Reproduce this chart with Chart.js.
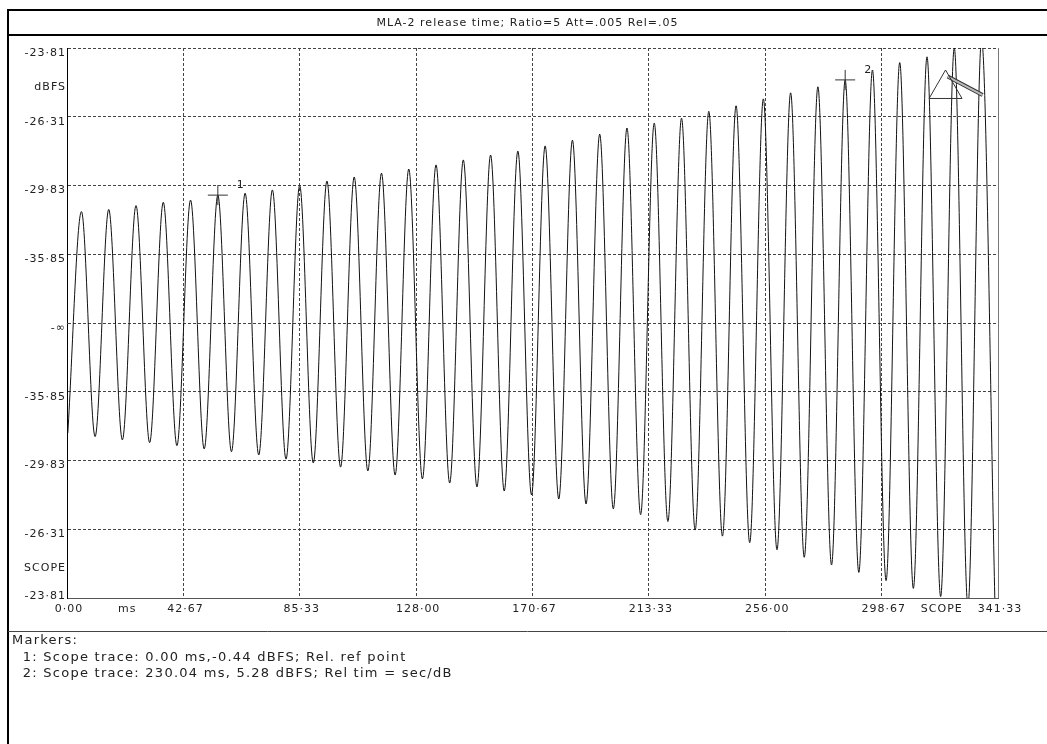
<!DOCTYPE html>
<html>
<head>
<meta charset="utf-8">
<title>MLA-2 release time</title>
<script src="https://cdn.jsdelivr.net/npm/chart.js@4.4.1/dist/chart.umd.min.js"></script>
<style>
  html, body { margin: 0; padding: 0; background: #fff; }
  canvas { display: block; }
</style>
</head>
<body>
<canvas id="scope" width="1047" height="744"></canvas>
<script>
// Scope trace of the 100 Hz tone, level relative to full scale (1 = -23.81 dBFS)
const troughMs = [0.3, 10.3, 20.3, 30.3, 40.3, 50.3, 60.3, 70.3, 80.3, 90.3,
  100.3, 110.3, 120.3, 130.3, 140.3, 150.3, 160.3, 170.3, 180.3, 190.3,
  200.3, 210.3, 220.3, 230.3, 240.3, 250.3, 260.3, 270.3, 280.3, 290.3,
  300.3, 310.3, 320.3, 330.3, 340.3];
const troughLevel = [-0.400, -0.413, -0.425, -0.435, -0.446, -0.458, -0.468, -0.480, -0.495, -0.509,
  -0.524, -0.538, -0.553, -0.567, -0.582, -0.596, -0.611, -0.625, -0.640, -0.658,
  -0.676, -0.697, -0.722, -0.753, -0.775, -0.799, -0.825, -0.852, -0.880, -0.907,
  -0.937, -0.965, -0.995, -1.03, -1.06];
const peakMs = [5.3, 15.3, 25.3, 35.3, 45.3, 55.3, 65.3, 75.3, 85.3, 95.3,
  105.3, 115.3, 125.3, 135.3, 145.3, 155.3, 165.3, 175.3, 185.3, 195.3,
  205.3, 215.3, 225.3, 235.3, 245.3, 255.3, 265.3, 275.3, 285.3, 295.3,
  305.3, 315.3, 325.3, 335.3];
const peakLevel = [0.405, 0.413, 0.427, 0.439, 0.447, 0.465, 0.472, 0.484, 0.500, 0.516,
  0.531, 0.545, 0.560, 0.575, 0.593, 0.611, 0.625, 0.644, 0.665, 0.687,
  0.709, 0.727, 0.745, 0.770, 0.790, 0.815, 0.837, 0.859, 0.884, 0.920,
  0.947, 0.968, 1.00, 1.03];

// axis labelling
const yTickLabels = ['-23·81', '-26·31', '-29·83', '-35·85', '-∞', '-35·85', '-29·83', '-26·31', '-23·81'];
const xTickMs = [0, 21.33, 42.67, 64, 85.33, 106.67, 128, 149.33, 170.67, 192,
  213.33, 234.67, 256, 277.33, 298.67, 320, 341.33];
const xTickLabels = ['0·00', 'ms', '42·67', '', '85·33', '', '128·00', '', '170·67', '',
  '213·33', '', '256·00', '', '298·67', 'SCOPE', '341·33'];

// cursor markers
const markerNames = ['1', '2'];
const markerMs = [55.3, 285.3];
const markerLevel = [0.465, 0.884];

// trigger symbol in the upper right corner
const triangleMs = [322.1];
const triangleLevel = [0.851];
const slashMs = [322.9, 335.7];
const slashLevel = [0.896, 0.829];

const titleText = 'MLA-2 release time; Ratio=5 Att=.005 Rel=.05';
const markerNotes = [
  'Markers:',
  '  1: Scope trace: 0.00 ms,-0.44 dBFS; Rel. ref point',
  '  2: Scope trace: 230.04 ms, 5.28 dBFS; Rel tim = sec/dB'
];

const INK = '#222';
const FONT = 'DejaVu Sans';

const trace = [];
troughMs.forEach((t, i) => {
  trace.push({x: t, y: troughLevel[i]});
  if (i < peakMs.length) trace.push({x: peakMs[i], y: peakLevel[i]});
});

const scopeFrame = {
  id: 'scopeFrame',
  beforeDraw(chart) {
    chart.ctx.letterSpacing = '1px';
  },
  afterDraw(chart) {
    const {ctx, chartArea: a, scales: {x, y}} = chart;
    const W = chart.width, H = chart.height;
    ctx.save();
    ctx.letterSpacing = '1px';

    // page frame, title box, notes separator
    ctx.strokeStyle = '#000';
    ctx.lineWidth = 2;
    ctx.beginPath();
    ctx.moveTo(8, H); ctx.lineTo(8, 10); ctx.lineTo(W, 10);
    ctx.moveTo(8, 35); ctx.lineTo(W, 35);
    ctx.stroke();
    ctx.lineWidth = 1;
    ctx.strokeStyle = '#444';
    ctx.beginPath();
    ctx.moveTo(8, 631.5); ctx.lineTo(W, 631.5);
    ctx.stroke();

    // right edge of the graticule
    ctx.strokeStyle = '#777';
    ctx.beginPath();
    ctx.moveTo(a.right + 0.5, a.top); ctx.lineTo(a.right + 0.5, a.bottom);
    ctx.stroke();

    ctx.fillStyle = INK;
    ctx.font = '11px "' + FONT + '"';
    ctx.textBaseline = 'middle';
    ctx.textAlign = 'center';
    ctx.fillText(titleText, (8 + W) / 2, 23);

    // marker numbers beside the cursors
    ctx.textAlign = 'left';
    markerNames.forEach((n, i) => {
      ctx.fillText(n, x.getPixelForValue(markerMs[i]) + 19, y.getPixelForValue(markerLevel[i]) - 10);
    });

    ctx.font = '13px "' + FONT + '"';
    ctx.letterSpacing = '1.25px';
    markerNotes.forEach((line, i) => {
      ctx.fillText(line, 12, 641 + i * 16.5);
    });
    ctx.restore();
  }
};

new Chart(document.getElementById('scope'), {
  data: {
    datasets: [
      {
        type: 'scatter',
        data: markerMs.map((t, i) => ({x: t, y: markerLevel[i]})),
        pointStyle: 'cross',
        pointRadius: 10,
        borderColor: '#333',
        borderWidth: 1
      },
      {
        type: 'scatter',
        data: triangleMs.map((t, i) => ({x: t, y: triangleLevel[i]})),
        pointStyle: 'triangle',
        pointRadius: 19,
        borderColor: '#333',
        backgroundColor: 'rgba(0,0,0,0)',
        borderWidth: 1
      },
      {
        type: 'line',
        data: slashMs.map((t, i) => ({x: t, y: slashLevel[i]})),
        borderColor: '#bbb',
        borderWidth: 2,
        pointRadius: 0
      },
      {
        type: 'line',
        data: slashMs.map((t, i) => ({x: t, y: slashLevel[i]})),
        borderColor: '#333',
        borderWidth: 4,
        pointRadius: 0
      },
      {
        type: 'line',
        data: trace,
        borderColor: '#111',
        borderWidth: 1,
        pointRadius: 0,
        cubicInterpolationMode: 'monotone'
      }
    ]
  },
  options: {
    responsive: false,
    animation: false,
    devicePixelRatio: 1,
    layout: {padding: {left: 0, top: 48, right: 49, bottom: 126}},
    plugins: {legend: {display: false}, tooltip: {enabled: false}},
    scales: {
      x: {
        type: 'linear',
        min: 0,
        max: 341.33,
        afterBuildTicks: s => { s.ticks = xTickMs.map(v => ({value: v})); },
        afterFit: s => { s.height = 20; },
        grid: {
          drawTicks: false,
          color: c => (c.index % 2 === 1 || c.index === xTickMs.length - 1 || c.index === 0) ? 'rgba(0,0,0,0)' : '#444'
        },
        border: {display: true, color: '#555', width: 1, dash: [3, 2]},
        ticks: {
          autoSkip: false,
          maxRotation: 0,
          padding: 5,
          labelOffset: 2,
          color: INK,
          font: {family: FONT, size: 11},
          callback: (v, i) => xTickLabels[i]
        }
      },
      y: {
        type: 'linear',
        min: -1,
        max: 1,
        afterBuildTicks: s => {
          const t = [];
          for (let i = 0; i <= 16; i++) t.push({value: -1 + i * 0.125});
          s.ticks = t;
        },
        afterFit: s => { s.width = 67; },
        grid: {
          drawTicks: false,
          color: c => (c.index % 2 === 1 || c.index === 0) ? 'rgba(0,0,0,0)' : '#444'
        },
        border: {display: true, color: '#000', width: 1, dash: [3, 2]},
        ticks: {
          autoSkip: false,
          padding: 1,
          labelOffset: 5,
          color: INK,
          font: {family: FONT, size: 11},
          callback: (v, i) => {
            if (i === 0) return [yTickLabels[0], ''];
            if (i % 2 === 0) return yTickLabels[i / 2];
            if (i === 15) return 'dBFS';
            if (i === 1) return 'SCOPE';
            return '';
          }
        }
      }
    }
  },
  plugins: [scopeFrame]
});
</script>
</body>
</html>
